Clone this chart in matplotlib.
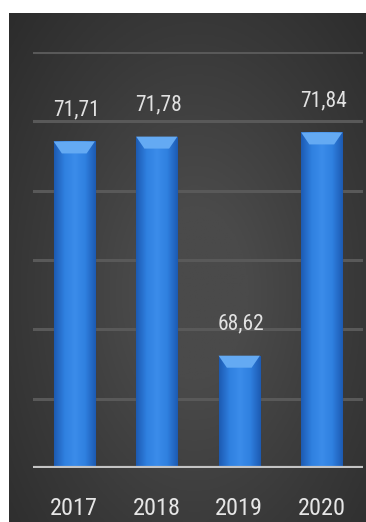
import numpy as np
import matplotlib
matplotlib.use("Agg")
import matplotlib.pyplot as plt
from matplotlib.colors import LinearSegmentedColormap
from matplotlib.patches import Polygon

# Data
years = ["2017", "2018", "2019", "2020"]
values = [71.71, 71.78, 68.62, 71.84]
value_labels = ["71,71", "71,78", "68,62", "71,84"]

y_min, y_max = 67, 73
grid_ticks = [68, 69, 70, 71, 72, 73]

W, H = 366, 522
fig = plt.figure(figsize=(W / 100, H / 100), dpi=100, facecolor="white")

# Dark panel with a soft radial glow
bg = fig.add_axes([9 / W, 0, 1 - 9 / W, (H - 13) / H])
yy, xx = np.mgrid[0:1:300j, 0:1:300j]
r = np.sqrt(((xx - 0.52) / 0.75) ** 2 + ((yy - 0.45) / 0.85) ** 2)
glow = np.clip(1 - r, 0, 1)
bg_cmap = LinearSegmentedColormap.from_list("bg", ["#2a2a2a", "#393939", "#4a4a4a"])
bg.imshow(glow, cmap=bg_cmap, aspect="auto", extent=[0, 1, 0, 1], origin="lower",
          vmin=0, vmax=0.8)
bg.axis("off")

ax = fig.add_axes([33 / W, (H - 468) / H, 330 / W, 416 / H])
ax.set_facecolor("none")
ax.set_xlim(-0.5, 3.5)
ax.set_ylim(y_min, y_max)
for sp in ax.spines.values():
    sp.set_visible(False)
ax.set_xticks([])
ax.set_yticks([])

for g in grid_ticks:
    ax.axhline(g, color="#595959", lw=2.2, zorder=1)

font = ["Roboto Condensed", "Open Sans Condensed", "DejaVu Sans Condensed", "Roboto"]

bar_w = 0.5
x = np.arange(len(years))
bars = ax.bar(x, [v - y_min for v in values], bottom=y_min, width=bar_w,
              color="#2e7ad6", edgecolor="#1a3f78", linewidth=0.8, zorder=2)

bar_cmap = LinearSegmentedColormap.from_list("bar", ["#1d5bb3", "#2f80e0", "#3b8cea", "#2f80e0", "#1d5bb3"])
grad = np.linspace(0, 1, 64)[None, :]
bevel_h = 12 / 69.3
inset = 0.1
for i, (xi, v, b) in enumerate(zip(x, values, bars)):
    im = ax.imshow(grad, cmap=bar_cmap, aspect="auto",
                   extent=[xi - bar_w / 2, xi + bar_w / 2, y_min, v], zorder=3)
    im.set_clip_path(b)
    top = Polygon([(xi - bar_w / 2, v), (xi + bar_w / 2, v),
                   (xi + bar_w / 2 - inset, v - bevel_h), (xi - bar_w / 2 + inset, v - bevel_h)],
                  closed=True, facecolor="#64aaf3", edgecolor="none", zorder=4)
    ax.add_patch(top)
    ax.annotate(value_labels[i], (xi, v), xytext=(1.5, 22.5), textcoords="offset points",
                ha="center", va="center", color="#e2e2e2", fontsize=15.5, family=font, zorder=5)
    ax.annotate(years[i], (xi, y_min), xytext=(0, -29.5), textcoords="offset points",
                ha="center", va="center", color="#e6e6e6", fontsize=17.5, family=font, zorder=5,
                annotation_clip=False)

ax.axhline(y_min, color="#c4c4c4", lw=3, zorder=6)

fig.savefig("out.png", dpi=100, facecolor="white")
